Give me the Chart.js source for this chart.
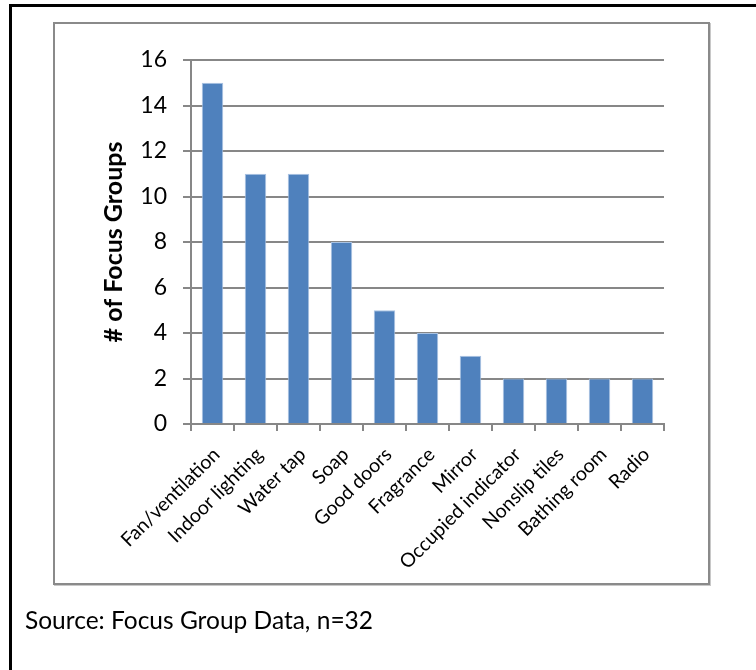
<!DOCTYPE html>
<html>
<head>
<meta charset="utf-8">
<script src="https://cdn.jsdelivr.net/npm/chart.js@4/dist/chart.umd.min.js"></script>
<style>
  html, body { margin: 0; padding: 0; background: #fff; }
  body { width: 756px; height: 670px; position: relative; overflow: hidden; font-family: Lato, "Open Sans", sans-serif; }
  .rule-top { position: absolute; left: 9px; top: 4px; width: 747px; height: 3px; background: #000; }
  .rule-left { position: absolute; left: 9px; top: 4px; width: 3px; height: 666px; background: #000; }
  .frame { position: absolute; left: 53px; top: 22px; width: 653px; height: 559px; border: 2px solid #8a8a8a; box-shadow: 1px 1px 0 #c8c8c8; }
  #wrap { position: absolute; left: 0; top: 0; width: 756px; height: 670px; }
  .source { position: absolute; left: 25px; top: 605px; font-size: 24.5px; color: #000; white-space: nowrap; }
</style>
</head>
<body>
<div class="rule-top"></div>
<div class="rule-left"></div>
<div class="frame"></div>
<div id="wrap"><canvas id="c" width="756" height="670"></canvas></div>
<div class="source">Source: Focus Group Data, n=32</div>
<script>
// Bathroom features mentioned by focus groups
const categories = ["Fan/ventilation", "Indoor lighting", "Water tap", "Soap", "Good doors", "Fragrance", "Mirror", "Occupied indicator", "Nonslip tiles", "Bathing room", "Radio"];
const focusGroupCounts = [15, 11, 11, 8, 5, 4, 3, 2, 2, 2, 2];
const yTicks = [0, 2, 4, 6, 8, 10, 12, 14, 16];

const axisGray = '#878787';

new Chart(document.getElementById('c'), {
  type: 'bar',
  data: {
    labels: categories,
    datasets: [{
      data: focusGroupCounts,
      backgroundColor: '#4F81BD',
      borderColor: '#A9C3E3',
      borderWidth: { left: 1, right: 1, top: 1, bottom: 0 },
      categoryPercentage: 1,
      barPercentage: 0.5
    }]
  },
  options: {
    responsive: false,
    animation: false,
    devicePixelRatio: 1,
    layout: { padding: { left: 95, top: 60, right: 92, bottom: 96 } },
    plugins: { legend: { display: false }, tooltip: { enabled: false } },
    scales: {
      x: {
        grid: { display: true, drawOnChartArea: false, drawTicks: true, tickLength: 7, color: axisGray, lineWidth: 2, offset: true },
        border: { display: true, color: axisGray, width: 2 },
        ticks: {
          color: '#000',
          font: { family: 'Lato', size: 19.5 },
          minRotation: 45, maxRotation: 45,
          padding: 12,
          labelOffset: 4,
          autoSkip: false
        },
        afterFit: (s) => { s.height = 150; }
      },
      y: {
        min: 0, max: 16,
        afterBuildTicks: (s) => { s.ticks = yTicks.map(v => ({ value: v })); },
        grid: { color: axisGray, lineWidth: 2, tickLength: 8, drawTicks: true },
        border: { display: true, color: axisGray, width: 2 },
        ticks: {
          color: '#000',
          font: { family: 'Lato', size: 23 },
          padding: 16
        },
        title: {
          display: true,
          text: '# of Focus Groups',
          color: '#000',
          font: { family: 'Lato', size: 25, weight: 'bold' },
          padding: { top: 4, bottom: 0 }
        },
        afterFit: (s) => { s.width = 96; }
      }
    }
  }
});
</script>
</body>
</html>
